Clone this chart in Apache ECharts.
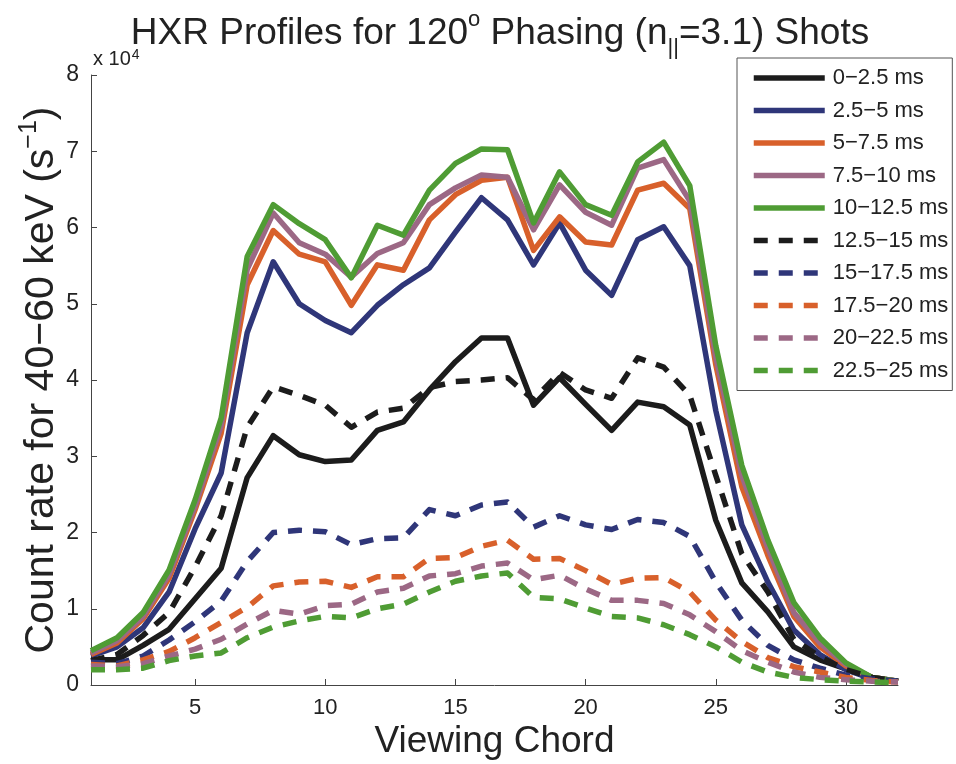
<!DOCTYPE html>
<html>
<head>
<meta charset="utf-8">
<title>HXR Profiles</title>
<script src="https://cdn.jsdelivr.net/npm/echarts@6/dist/echarts.min.js"></script>
<style>
  html, body { margin: 0; padding: 0; background: #fff; }
  #chart { width: 956px; height: 764px; }
</style>
</head>
<body>
<div id="chart"></div>
<script>
// Viewing chords 1..32
const chords = [1,2,3,4,5,6,7,8,9,10,11,12,13,14,15,16,17,18,19,20,21,22,23,24,25,26,27,28,29,30,31,32];

// Count rate, in units of 10^4 s^-1, per time window
const t0_2p5 = [0.33,0.33,0.52,0.73,1.13,1.53,2.72,3.27,3.02,2.93,2.95,3.34,3.45,3.87,4.24,4.55,4.55,3.67,4.03,3.68,3.34,3.71,3.65,3.41,2.16,1.34,0.96,0.5,0.33,0.21,0.1,0.05];
const t2p5_5 = [0.38,0.5,0.75,1.22,2.05,2.78,4.62,5.55,5.0,4.78,4.62,4.98,5.25,5.47,5.94,6.39,6.1,5.51,6.06,5.44,5.11,5.84,6.01,5.5,3.6,2.1,1.35,0.72,0.4,0.2,0.08,0.05];
const t5_7p5 = [0.4,0.55,0.87,1.4,2.3,3.3,5.25,5.96,5.65,5.55,4.98,5.51,5.44,6.1,6.43,6.62,6.66,5.7,6.14,5.81,5.77,6.49,6.58,6.25,4.2,2.6,1.7,0.9,0.5,0.25,0.1,0.05];
const t7p5_10 = [0.42,0.58,0.9,1.45,2.35,3.4,5.45,6.19,5.8,5.65,5.35,5.66,5.8,6.3,6.52,6.69,6.66,5.97,6.56,6.2,6.03,6.78,6.89,6.35,4.3,2.75,1.8,0.95,0.55,0.27,0.1,0.05];
const t10_12p5 = [0.45,0.62,0.95,1.51,2.43,3.5,5.62,6.3,6.05,5.84,5.34,6.03,5.9,6.49,6.84,7.03,7.02,6.06,6.73,6.3,6.16,6.86,7.12,6.55,4.45,2.88,1.9,1.08,0.62,0.29,0.1,0.05];
const t12p5_15 = [0.32,0.4,0.65,0.95,1.55,2.22,3.38,3.91,3.8,3.67,3.38,3.58,3.63,3.9,3.98,4.0,4.03,3.74,4.1,3.87,3.76,4.29,4.17,3.8,2.75,1.72,1.22,0.6,0.37,0.2,0.1,0.05];
const t15_17p5 = [0.3,0.28,0.38,0.59,0.83,1.1,1.62,2.0,2.03,2.01,1.84,1.92,1.93,2.3,2.22,2.36,2.4,2.07,2.22,2.1,2.04,2.17,2.13,1.95,1.35,0.85,0.52,0.33,0.22,0.13,0.08,0.05];
const t17p5_20 = [0.27,0.25,0.33,0.44,0.62,0.82,1.02,1.3,1.35,1.36,1.28,1.42,1.42,1.66,1.67,1.82,1.9,1.65,1.66,1.5,1.32,1.4,1.41,1.22,0.85,0.57,0.36,0.24,0.17,0.1,0.06,0.04];
const t20_22p5 = [0.25,0.24,0.28,0.38,0.47,0.6,0.8,0.98,0.93,1.04,1.06,1.22,1.27,1.43,1.46,1.56,1.6,1.38,1.44,1.26,1.11,1.11,1.07,0.92,0.7,0.45,0.3,0.17,0.1,0.07,0.05,0.04];
const t22p5_25 = [0.2,0.2,0.22,0.32,0.38,0.42,0.62,0.76,0.84,0.9,0.88,1.0,1.06,1.22,1.36,1.43,1.47,1.15,1.13,1.01,0.9,0.88,0.79,0.66,0.5,0.3,0.17,0.1,0.07,0.05,0.04,0.03];

const windowLabels = ['0\u22122.5 ms','2.5\u22125 ms','5\u22127.5 ms','7.5\u221210 ms','10\u221212.5 ms',
                      '12.5\u221215 ms','15\u221217.5 ms','17.5\u221220 ms','20\u221222.5 ms','22.5\u221225 ms'];
const windowValues = [t0_2p5, t2p5_5, t5_7p5, t7p5_10, t10_12p5, t12p5_15, t15_17p5, t17p5_20, t20_22p5, t22p5_25];

const xTicks = [5, 10, 15, 20, 25, 30];
const yTicks = [0, 1, 2, 3, 4, 5, 6, 7, 8];

// palette: the five solid windows, then the same five colours dashed
const palette = ['#1c1c1c', '#2f3679', '#d8602b', '#9c6885', '#4f9c34'];
const dashPattern = [14, 11];
const FONT = 'Liberation Sans, Arial, Helvetica, sans-serif';

const series = windowValues.map((vals, i) => ({
  name: windowLabels[i],
  type: 'line',
  symbol: 'none',
  smooth: false,
  data: chords.map((c, k) => [c, vals[k]]),
  lineStyle: {
    width: 5.5,
    color: palette[i % 5],
    type: i < 5 ? 'solid' : dashPattern,
    cap: 'butt',
    join: 'round'
  },
  itemStyle: { color: palette[i % 5] },
  emphasis: { disabled: true }
}));

const chart = echarts.init(document.getElementById('chart'), null, { renderer: 'canvas' });
chart.setOption({
  animation: false,
  backgroundColor: '#ffffff',
  textStyle: { fontFamily: FONT },
  title: {
    text: 'HXR Profiles for 120{sup|o} Phasing (n{sub|||}=3.1) Shots',
    left: 495,
    textAlign: 'center',
    top: 4,
    textStyle: {
      fontFamily: FONT,
      fontSize: 37,
      fontWeight: 'normal',
      color: '#222',
      lineHeight: 50,
      rich: {
        sup: { fontFamily: FONT, fontSize: 22, color: '#222', verticalAlign: 'top', lineHeight: 50, padding: [0, 0, 16, 0] },
        sub: { fontFamily: FONT, fontSize: 22, color: '#222', verticalAlign: 'bottom', lineHeight: 50, padding: [12, 0, 0, 0] }
      }
    }
  },
  grid: { left: 91, right: 58, top: 75, bottom: 79, containLabel: false, outerBoundsMode: 'none' },
  legend: {
    orient: 'vertical',
    left: 737,
    top: 58,
    data: windowLabels,
    itemWidth: 71,
    itemHeight: 14,
    itemGap: 8.5,
    padding: [8, 4, 8, 14],
    backgroundColor: '#ffffff',
    borderColor: '#555555',
    borderWidth: 1,
    borderRadius: 0,
    selectedMode: false,
    itemStyle: { opacity: 0 },
    lineStyle: { width: 5.5 },
    textStyle: { fontFamily: FONT, fontSize: 22, color: '#222', lineHeight: 24, padding: [0, 0, 0, 3] }
  },
  xAxis: {
    type: 'value',
    min: 1,
    max: 32,
    name: 'Viewing Chord',
    nameLocation: 'middle',
    nameGap: 38,
    nameMoveOverlap: false,
    nameTextStyle: { fontFamily: FONT, fontSize: 37, color: '#222' },
    axisLine: { show: true, onZero: false, lineStyle: { color: '#444', width: 1 } },
    axisTick: { show: true, inside: true, length: 6, customValues: xTicks, lineStyle: { color: '#444' } },
    axisLabel: { customValues: xTicks, fontFamily: FONT, fontSize: 22, color: '#222', margin: 12 },
    splitLine: { show: false }
  },
  yAxis: {
    type: 'value',
    min: 0,
    max: 8,
    interval: 1,
    name: 'Count rate for 40\u221260 keV (s{sup|\u22121})',
    nameLocation: 'middle',
    nameRotate: 90,
    nameGap: 24,
    nameMoveOverlap: false,
    nameTextStyle: {
      fontFamily: FONT, fontSize: 41, color: '#222', lineHeight: 50,
      rich: { sup: { fontFamily: FONT, fontSize: 25, color: '#222', verticalAlign: 'top', lineHeight: 50, padding: [0, 0, 14, 0] } }
    },
    axisLine: { show: true, lineStyle: { color: '#444', width: 1 } },
    axisTick: { show: true, inside: true, length: 6, lineStyle: { color: '#444' } },
    axisLabel: {
      fontFamily: FONT, fontSize: 23, color: '#222', margin: 12,
      formatter: v => (yTicks.indexOf(v) >= 0 ? String(v) : '')
    },
    splitLine: { show: false }
  },
  graphic: [{
    type: 'text',
    left: 93,
    top: 48,
    style: {
      text: 'x 10{sup|4}',
      fontFamily: FONT,
      fontSize: 20,
      fill: '#222',
      rich: { sup: { fontFamily: FONT, fontSize: 14, fill: '#222', verticalAlign: 'top', padding: [0, 0, 9, 1] } }
    }
  }],
  series: series
});
</script>
</body>
</html>
